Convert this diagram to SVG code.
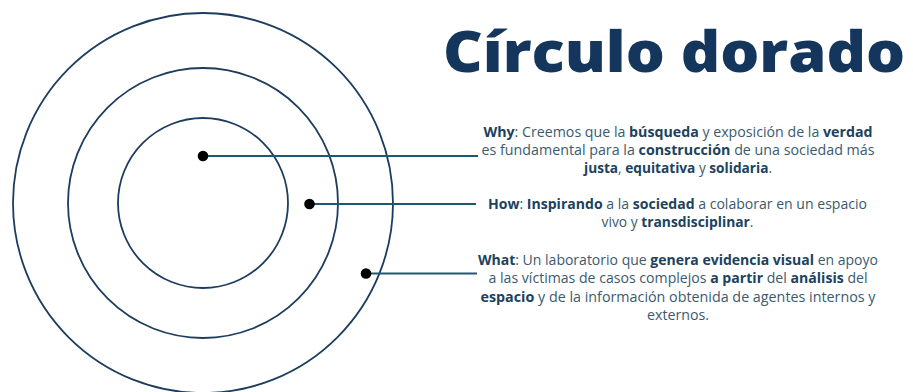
<svg xmlns="http://www.w3.org/2000/svg" width="913" height="392" viewBox="0 0 913 392">
<style>
.ring{fill:none;stroke:#1c3d5e;stroke-width:1.8}
.conn{stroke:#1f5872;stroke-width:2}
.dot{fill:#000}
.t{font-family:"Open Sans","Liberation Sans",sans-serif;font-size:14px;fill:#3a5a6e;text-anchor:middle}
.b{font-weight:bold;fill:#1b4260}
.title{font-family:"Open Sans","Liberation Sans",sans-serif;font-size:56px;font-weight:800;fill:#14355c}
</style>
<rect width="913" height="392" fill="#fff"/>
<g id="circles">
<circle id="outer" class="ring" cx="203" cy="203" r="190"/>
<circle id="middle" class="ring" cx="203" cy="203" r="135"/>
<circle id="inner" class="ring" cx="203" cy="203" r="85"/>
</g>
<g id="connectors">
<line class="conn" x1="203" y1="156" x2="478" y2="156"/>
<line class="conn" x1="309" y1="204" x2="476" y2="204"/>
<line class="conn" x1="366" y1="273.5" x2="477" y2="273.5"/>
<circle class="dot" cx="203" cy="156" r="5.3"/>
<circle class="dot" cx="309.5" cy="204" r="5.3"/>
<circle class="dot" cx="366" cy="273.5" r="5.3"/>
</g>
<g id="title">
<text class="title" x="443" y="72" textLength="462" lengthAdjust="spacingAndGlyphs">Círculo dorado</text>
</g>
<g id="why">
<text class="t" x="678" y="137" textLength="389" lengthAdjust="spacingAndGlyphs"><tspan class="b">Why</tspan>: Creemos que la <tspan class="b">búsqueda</tspan> y exposición de la <tspan class="b">verdad</tspan></text>
<text class="t" x="678" y="155" textLength="393" lengthAdjust="spacingAndGlyphs">es fundamental para la <tspan class="b">construcción</tspan> de una sociedad más</text>
<text class="t" x="678" y="173" textLength="188" lengthAdjust="spacingAndGlyphs"><tspan class="b">justa</tspan>, <tspan class="b">equitativa</tspan> y <tspan class="b">solidaria</tspan>.</text>
</g>
<g id="how">
<text class="t" x="677.5" y="209" textLength="379" lengthAdjust="spacingAndGlyphs"><tspan class="b">How</tspan>: <tspan class="b">Inspirando</tspan> a la <tspan class="b">sociedad</tspan> a colaborar en un espacio</text>
<text class="t" x="677.5" y="227" textLength="152" lengthAdjust="spacingAndGlyphs">vivo y <tspan class="b">transdisciplinar</tspan>.</text>
</g>
<g id="what">
<text class="t" x="678" y="265" textLength="400" lengthAdjust="spacingAndGlyphs"><tspan class="b">What</tspan>: Un laboratorio que <tspan class="b">genera evidencia visual</tspan> en apoyo</text>
<text class="t" x="678" y="283" textLength="379" lengthAdjust="spacingAndGlyphs">a las víctimas de casos complejos <tspan class="b">a partir</tspan> del <tspan class="b">análisis</tspan> del</text>
<text class="t" x="678" y="302" textLength="395" lengthAdjust="spacingAndGlyphs"><tspan class="b">espacio</tspan> y de la información obtenida de agentes internos y</text>
<text class="t" x="678" y="320" textLength="62" lengthAdjust="spacingAndGlyphs">externos.</text>
</g>
</svg>
